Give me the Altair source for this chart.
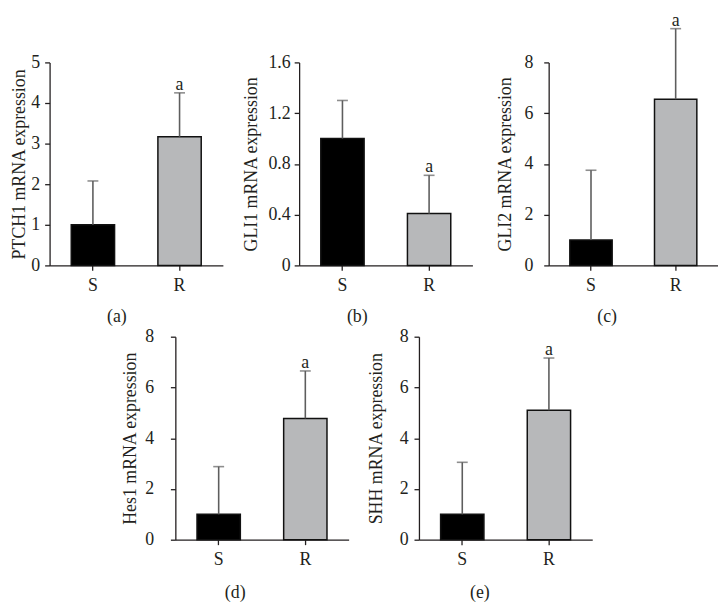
import altair as alt
import pandas as pd

groups = ["S", "R"]
sig_labels = ["", "a"]

ptch1_mean = [1.00, 3.17]
ptch1_upper = [2.08, 4.25]
gli1_mean = [1.00, 0.41]
gli1_upper = [1.30, 0.71]
gli2_mean = [1.00, 6.55]
gli2_upper = [3.75, 9.33]
hes1_mean = [1.00, 4.78]
hes1_upper = [2.88, 6.65]
shh_mean = [1.00, 5.10]
shh_upper = [3.05, 7.16]

ptch1_ticks = [0, 1, 2, 3, 4, 5]
gli1_ticks = [0, 0.4, 0.8, 1.2, 1.6]
eight_ticks = [0, 2, 4, 6, 8]

FONT = "Liberation Serif"
INK = "#231f20"
BAR_COLORS = ["#000000", "#b7b8ba"]
ERR = "#5e5e5e"


def panel(gene, means, uppers, ticks, caption, width, label_pad, title_pad, cap_offset):
    df = pd.DataFrame({"group": groups, "mean": means, "upper": uppers, "sig": sig_labels})
    base = alt.Chart(df)
    x = alt.X("group:N", sort=groups,
              scale=alt.Scale(paddingInner=0.5, paddingOuter=0.25),
              axis=alt.Axis(title=None, labelAngle=0, labelPadding=6))
    yscale = alt.Scale(domain=[ticks[0], ticks[-1]], nice=False)
    yaxis = alt.Axis(values=ticks, format="~g", labelPadding=label_pad,
                     titlePadding=title_pad)
    title = f"{gene} mRNA expression"

    def Y(field):
        return alt.Y(field, scale=yscale, axis=yaxis, title=title)

    bars = base.mark_bar(stroke="#111111", strokeWidth=1.5).encode(
        x=x, y=Y("mean:Q"),
        fill=alt.Fill("group:N", scale=alt.Scale(domain=groups, range=BAR_COLORS), legend=None),
    )
    err = base.mark_rule(color=ERR, strokeWidth=1.6).encode(x=x, y=Y("mean:Q"), y2="upper:Q")
    cap = base.mark_tick(color=ERR, thickness=1.6, size=11).encode(x=x, y=Y("upper:Q"))
    sig = base.mark_text(font=FONT, fontSize=18, color=INK, baseline="alphabetic", dy=-3).encode(
        x=x, y=Y("upper:Q"), text="sig:N")
    return alt.layer(bars, err, cap, sig).properties(
        width=width, height=205,
        title=alt.TitleParams(caption, orient="bottom", frame="bounds", anchor="middle",
                              offset=cap_offset, font=FONT, fontSize=18,
                              fontWeight="normal", color=INK),
    )


pa = panel("PTCH1", ptch1_mean, ptch1_upper, ptch1_ticks, "(a)", 175, 5, 2, 14)
pb = panel("GLI1", gli1_mean, gli1_upper, gli1_ticks, "(b)", 175, 4, 8, 14)
pc = panel("GLI2", gli2_mean, gli2_upper, eight_ticks, "(c)", 171, 11, 10, 14)
pd_ = panel("Hes1", hes1_mean, hes1_upper, eight_ticks, "(d)", 175, 17, 5, 16)
pe = panel("SHH", shh_mean, shh_upper, eight_ticks, "(e)", 175, 6, 14, 16)

top = alt.hconcat(pa, pb, pc, spacing=77, bounds="flush")
bottom = alt.hconcat(pd_, pe, spacing=71, bounds="flush")

chart = alt.vconcat(top, bottom, spacing=2, center=True).properties(
    padding={"left": 3, "top": 0, "right": 0, "bottom": 0}
).configure_view(stroke=None).configure_axis(
    grid=False, domainColor=INK, domainWidth=1.3, tickColor=INK, tickWidth=1.3, tickSize=5,
    labelFont=FONT, labelFontSize=18, labelColor=INK,
    titleFont=FONT, titleFontSize=18, titleFontWeight="normal", titleColor=INK,
)

chart.save("out.html", embed_options={"renderer": "svg", "actions": False})
